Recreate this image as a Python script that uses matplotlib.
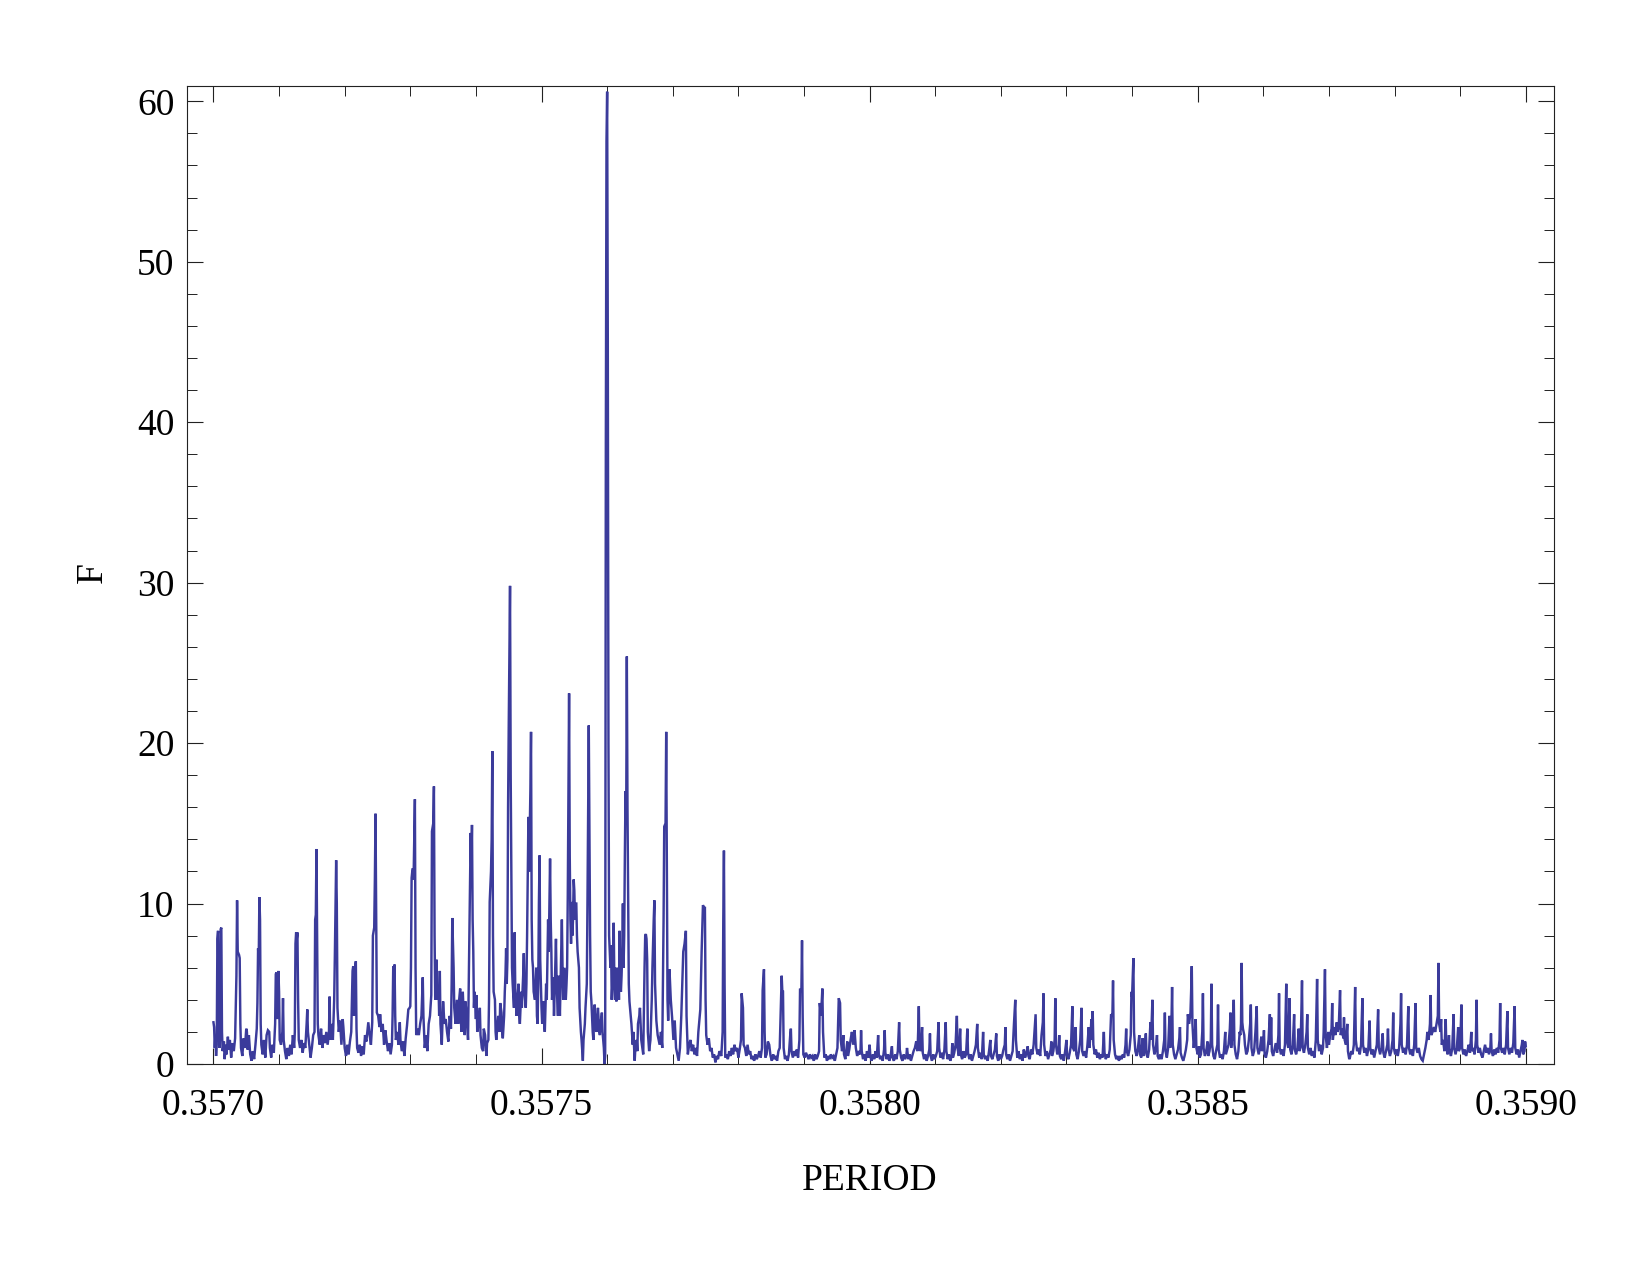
import numpy as np
import matplotlib
matplotlib.use("Agg")
import matplotlib.pyplot as plt
from matplotlib.ticker import MultipleLocator, FormatStrFormatter

# ---------------- data ----------------
period_1 = [
    0.357000, 0.357001, 0.357002, 0.357003, 0.357004, 0.357005, 0.357006, 0.357007, 0.357008, 0.357009,
    0.357010, 0.357011, 0.357012, 0.357013, 0.357014, 0.357016, 0.357017, 0.357019, 0.357020, 0.357022,
    0.357023, 0.357025, 0.357027, 0.357029, 0.357031, 0.357033, 0.357035, 0.357036, 0.357037, 0.357039,
    0.357040, 0.357041, 0.357042, 0.357044, 0.357046, 0.357048, 0.357050, 0.357051, 0.357052, 0.357054,
    0.357056, 0.357058, 0.357060, 0.357062, 0.357064, 0.357066, 0.357067, 0.357068, 0.357069, 0.357070,
    0.357071, 0.357072, 0.357073, 0.357075, 0.357077, 0.357079, 0.357081, 0.357083, 0.357085, 0.357086,
    0.357088, 0.357090, 0.357092, 0.357094, 0.357095, 0.357096, 0.357097, 0.357099, 0.357100, 0.357101,
    0.357103, 0.357105, 0.357106, 0.357107, 0.357109, 0.357111, 0.357113, 0.357115, 0.357117, 0.357119,
    0.357121, 0.357123, 0.357124, 0.357125, 0.357126, 0.357127, 0.357128, 0.357129, 0.357130, 0.357132,
    0.357134, 0.357136, 0.357138, 0.357140, 0.357142, 0.357143, 0.357144, 0.357146, 0.357148, 0.357150,
    0.357152, 0.357154, 0.357155, 0.357156, 0.357157, 0.357158, 0.357159, 0.357160, 0.357162, 0.357164,
    0.357166, 0.357168, 0.357170, 0.357172, 0.357174, 0.357176, 0.357177, 0.357178, 0.357180, 0.357182,
    0.357184, 0.357185, 0.357187, 0.357188, 0.357189, 0.357191, 0.357193, 0.357195, 0.357197, 0.357198,
    0.357200, 0.357202, 0.357204, 0.357206, 0.357208, 0.357210, 0.357212, 0.357213, 0.357214, 0.357216,
    0.357217, 0.357218, 0.357219, 0.357221, 0.357223, 0.357225, 0.357227, 0.357229, 0.357231, 0.357233,
    0.357235, 0.357236, 0.357238, 0.357240, 0.357242, 0.357243, 0.357245, 0.357246, 0.357247, 0.357248,
    0.357249, 0.357251, 0.357253, 0.357254, 0.357256, 0.357258, 0.357260, 0.357262, 0.357264, 0.357266,
    0.357268, 0.357270, 0.357272, 0.357273, 0.357274, 0.357275, 0.357276, 0.357277, 0.357278, 0.357280,
    0.357282, 0.357284, 0.357285, 0.357287, 0.357289, 0.357291, 0.357293, 0.357295, 0.357297, 0.357299,
    0.357300, 0.357301, 0.357302, 0.357303, 0.357304, 0.357305, 0.357306, 0.357307, 0.357308, 0.357309,
    0.357311, 0.357313, 0.357315, 0.357317, 0.357319, 0.357320]
F_1 = [
    2.6, 2.3, 1.0, 1.8, 0.5, 1.2, 7.8, 8.3, 2.5, 1.0,
    1.6, 8.4, 8.5, 2.0, 0.8, 1.4, 0.3, 1.2, 0.6, 1.7,
    0.9, 1.5, 0.4, 1.3, 0.8, 1.6, 5.5, 10.2, 7.0, 6.8,
    6.6, 2.5, 1.0, 0.5, 1.6, 1.0, 2.2, 2.0, 0.9, 1.8,
    0.6, 0.2, 0.8, 0.3, 1.2, 2.2, 3.8, 7.2, 6.5, 10.4,
    9.0, 2.5, 1.2, 0.6, 1.5, 0.4, 1.8, 2.1, 2.0, 1.0,
    0.4, 1.2, 0.7, 2.5, 5.6, 5.7, 2.8, 5.8, 4.5, 1.5,
    1.2, 2.0, 4.1, 1.5, 0.8, 0.3, 1.0, 0.5, 1.2, 0.6,
    1.8, 1.0, 2.0, 7.5, 8.2, 7.8, 8.2, 4.0, 1.5, 1.0,
    1.5, 0.7, 1.3, 1.0, 2.5, 3.4, 2.0, 1.2, 0.4, 1.0,
    1.8, 2.0, 9.0, 9.3, 13.4, 8.0, 2.5, 1.8, 1.2, 2.2,
    1.0, 1.8, 1.3, 2.0, 1.2, 1.9, 4.2, 1.5, 2.5, 1.5,
    4.0, 6.7, 12.7, 10.0, 3.5, 2.0, 2.7, 1.2, 2.8, 2.3,
    1.0, 0.5, 1.2, 0.6, 1.4, 2.0, 5.8, 6.1, 3.0, 6.0,
    6.4, 2.2, 1.0, 0.7, 1.2, 0.5, 1.1, 0.6, 1.8, 1.4,
    2.2, 2.6, 1.8, 1.2, 2.6, 8.0, 8.5, 11.5, 15.6, 9.0,
    3.2, 3.0, 2.3, 3.1, 2.0, 2.5, 1.2, 2.1, 1.4, 0.8,
    1.3, 0.6, 1.2, 3.0, 6.1, 4.0, 6.2, 3.0, 1.5, 2.0,
    1.2, 2.6, 1.5, 0.8, 1.4, 0.5, 1.6, 2.4, 3.4, 3.5,
    3.6, 6.0, 11.6, 12.0, 12.2, 11.5, 14.0, 16.5, 6.0, 1.8,
    2.2, 1.8, 2.5, 3.0, 5.4, 3.0]

period_2 = [
    0.357322, 0.357324, 0.357326, 0.357328, 0.357330, 0.357332, 0.357333, 0.357335, 0.357336, 0.357337,
    0.357338, 0.357340, 0.357341, 0.357343, 0.357344, 0.357345, 0.357346, 0.357348, 0.357350, 0.357352,
    0.357354, 0.357356, 0.357358, 0.357360, 0.357362, 0.357363, 0.357364, 0.357366, 0.357367, 0.357369,
    0.357371, 0.357373, 0.357374, 0.357376, 0.357377, 0.357378, 0.357380, 0.357381, 0.357383, 0.357384,
    0.357386, 0.357388, 0.357390, 0.357392, 0.357393, 0.357394, 0.357395, 0.357396, 0.357397, 0.357398,
    0.357400, 0.357401, 0.357402, 0.357404, 0.357406, 0.357407, 0.357409, 0.357411, 0.357412, 0.357414,
    0.357416, 0.357417, 0.357419, 0.357420, 0.357421, 0.357423, 0.357424, 0.357425, 0.357426, 0.357427,
    0.357429, 0.357430, 0.357431, 0.357433, 0.357434, 0.357436, 0.357437, 0.357439, 0.357440, 0.357441,
    0.357443, 0.357444, 0.357445, 0.357446, 0.357447, 0.357448, 0.357449, 0.357450, 0.357452, 0.357453,
    0.357454, 0.357455, 0.357456, 0.357458, 0.357459, 0.357460, 0.357462, 0.357463, 0.357465, 0.357466,
    0.357467, 0.357469, 0.357470, 0.357472, 0.357473, 0.357474, 0.357476, 0.357477, 0.357478, 0.357480,
    0.357481, 0.357483, 0.357484, 0.357485, 0.357486, 0.357487, 0.357488, 0.357490, 0.357491, 0.357492,
    0.357493, 0.357494, 0.357495, 0.357496, 0.357497, 0.357498, 0.357500, 0.357501, 0.357503, 0.357504,
    0.357505, 0.357507, 0.357508, 0.357510, 0.357511, 0.357513, 0.357514, 0.357515, 0.357516, 0.357518,
    0.357519, 0.357520, 0.357522, 0.357523, 0.357524, 0.357525, 0.357526, 0.357527, 0.357528, 0.357529,
    0.357531, 0.357532, 0.357533, 0.357535, 0.357536, 0.357537, 0.357538, 0.357539, 0.357540, 0.357542,
    0.357543, 0.357544, 0.357545, 0.357546, 0.357547, 0.357548, 0.357549, 0.357550, 0.357551, 0.357552,
    0.357553, 0.357554, 0.357555, 0.357557, 0.357558, 0.357560, 0.357561, 0.357563, 0.357564, 0.357566,
    0.357567, 0.357569, 0.357570, 0.357572, 0.357573, 0.357574, 0.357575, 0.357576, 0.357578, 0.357579,
    0.357580, 0.357581, 0.357582, 0.357584, 0.357585, 0.357586, 0.357588, 0.357589, 0.357590, 0.357592,
    0.357593, 0.357594, 0.357595, 0.357596, 0.357597, 0.357598, 0.357599, 0.357600, 0.357601, 0.357602,
    0.357603, 0.357604, 0.357605, 0.357606, 0.357607, 0.357608, 0.357609, 0.357610, 0.357611, 0.357612,
    0.357613, 0.357614, 0.357616, 0.357617, 0.357618, 0.357619, 0.357620, 0.357621, 0.357622, 0.357623,
    0.357624, 0.357625, 0.357626, 0.357627, 0.357628, 0.357629, 0.357630, 0.357631, 0.357632, 0.357633,
    0.357634, 0.357636, 0.357637, 0.357639, 0.357640, 0.357642, 0.357643, 0.357645, 0.357646, 0.357647,
    0.357649, 0.357650]
F_2 = [
    1.0, 1.8, 0.8, 2.5, 3.0, 4.3, 14.5, 15.0, 17.3, 8.0,
    4.0, 6.5, 4.0, 4.8, 3.0, 5.8, 2.5, 1.2, 3.9, 2.5,
    2.8, 2.0, 1.4, 3.0, 2.2, 5.0, 9.1, 6.0, 3.5, 2.5,
    4.0, 2.5, 3.8, 4.7, 2.8, 2.0, 4.5, 3.5, 1.8, 3.9,
    3.0, 1.5, 8.0, 14.4, 12.0, 14.9, 9.0, 7.0, 3.5, 4.5,
    2.8, 4.3, 2.0, 2.5, 3.5, 1.8, 1.0, 0.8, 2.2, 1.8,
    0.5, 1.3, 1.5, 4.0, 10.1, 12.0, 14.0, 19.5, 8.0, 4.5,
    4.0, 2.0, 1.5, 2.5, 3.0, 2.0, 3.8, 3.2, 2.0, 1.6,
    3.0, 4.5, 5.5, 7.2, 5.0, 6.5, 16.0, 21.0, 29.8, 18.0,
    12.0, 6.0, 5.0, 3.5, 8.2, 4.5, 3.0, 4.0, 5.0, 3.0,
    2.5, 4.5, 3.5, 5.5, 6.9, 4.5, 3.5, 5.0, 8.0, 15.4,
    12.0, 17.0, 20.7, 9.0, 6.5, 6.0, 4.5, 4.0, 5.0, 6.0,
    3.0, 2.5, 5.0, 10.0, 13.0, 6.5, 3.5, 2.5, 3.9, 2.5,
    2.0, 5.0, 4.0, 9.0, 7.0, 12.8, 9.0, 7.0, 4.0, 5.4,
    3.0, 4.5, 7.8, 5.0, 4.0, 3.0, 5.5, 4.5, 3.0, 5.0,
    9.0, 6.0, 4.0, 6.0, 5.0, 4.0, 4.9, 6.0, 10.5, 23.1,
    13.0, 9.0, 7.5, 10.1, 8.0, 9.0, 11.5, 10.8, 9.0, 10.0,
    10.0, 8.0, 7.0, 6.0, 3.5, 2.0, 1.5, 0.2, 1.5, 2.5,
    3.5, 5.0, 10.0, 21.1, 14.0, 8.0, 4.5, 3.9, 2.0, 1.5,
    2.5, 3.7, 2.5, 2.0, 3.0, 3.5, 2.0, 1.8, 2.5, 3.2,
    2.0, 1.5, 1.0, 0.0, 0.5, 38.6, 57.5, 60.6, 45.0, 20.0,
    8.0, 7.0, 6.0, 7.4, 4.0, 5.0, 6.5, 8.8, 5.0, 4.0,
    6.0, 3.9, 5.0, 6.0, 4.0, 8.3, 5.0, 4.5, 5.5, 7.0,
    10.0, 6.0, 8.0, 13.0, 17.0, 15.0, 25.4, 16.0, 10.0, 5.0,
    3.9, 3.0, 2.5, 1.2, 2.0, 0.2, 1.0, 1.5, 0.8, 2.5,
    3.0, 3.5]

period_3 = [
    0.357652, 0.357655, 0.357657, 0.357658, 0.357659, 0.357660, 0.357661, 0.357662, 0.357664, 0.357666,
    0.357668, 0.357669, 0.357671, 0.357672, 0.357673, 0.357675, 0.357677, 0.357680, 0.357682, 0.357684,
    0.357686, 0.357687, 0.357689, 0.357690, 0.357691, 0.357692, 0.357693, 0.357695, 0.357697, 0.357699,
    0.357701, 0.357703, 0.357705, 0.357707, 0.357709, 0.357711, 0.357713, 0.357716, 0.357718, 0.357720,
    0.357721, 0.357723, 0.357725, 0.357727, 0.357729, 0.357731, 0.357733, 0.357735, 0.357737, 0.357739,
    0.357742, 0.357744, 0.357746, 0.357748, 0.357749, 0.357750, 0.357751, 0.357753, 0.357755, 0.357757,
    0.357759, 0.357761, 0.357763, 0.357765, 0.357767, 0.357769, 0.357771, 0.357774, 0.357776, 0.357777,
    0.357778, 0.357779, 0.357780, 0.357782, 0.357784, 0.357786, 0.357788, 0.357790, 0.357792, 0.357794,
    0.357796, 0.357798, 0.357800, 0.357802, 0.357804, 0.357805, 0.357807, 0.357808, 0.357810, 0.357812,
    0.357814, 0.357816, 0.357818, 0.357820, 0.357822, 0.357824, 0.357826, 0.357828, 0.357830, 0.357832,
    0.357834, 0.357836, 0.357837, 0.357839, 0.357840, 0.357841, 0.357843, 0.357845, 0.357847, 0.357849,
    0.357851, 0.357853, 0.357855, 0.357857, 0.357859, 0.357861, 0.357863, 0.357865, 0.357866, 0.357867,
    0.357868, 0.357869, 0.357871, 0.357873, 0.357875, 0.357877, 0.357879, 0.357880, 0.357881, 0.357883,
    0.357885, 0.357887, 0.357889, 0.357891, 0.357893, 0.357894, 0.357896, 0.357897, 0.357898, 0.357899,
    0.357901, 0.357903, 0.357905, 0.357907, 0.357909, 0.357911, 0.357913, 0.357915, 0.357917, 0.357919,
    0.357921, 0.357923, 0.357924, 0.357926, 0.357928, 0.357929, 0.357931, 0.357933, 0.357935, 0.357937,
    0.357939, 0.357941, 0.357943, 0.357945, 0.357947, 0.357949, 0.357951, 0.357953, 0.357955, 0.357956,
    0.357958, 0.357960, 0.357961, 0.357963, 0.357965, 0.357966, 0.357967, 0.357969, 0.357971, 0.357973,
    0.357975, 0.357977, 0.357979, 0.357981, 0.357983]
F_3 = [
    1.5, 0.6, 6.0, 8.0, 8.1, 7.8, 6.5, 2.0, 0.8, 1.5,
    4.0, 6.0, 9.0, 10.2, 5.0, 2.7, 1.8, 1.2, 2.0, 1.0,
    9.0, 14.8, 15.0, 20.7, 12.0, 4.0, 2.7, 5.9, 4.0, 2.9,
    1.5, 2.7, 1.0, 0.6, 0.2, 1.0, 3.0, 7.0, 7.5, 8.3,
    3.0, 0.6, 1.2, 1.5, 0.8, 1.2, 0.6, 1.0, 0.5, 2.0,
    3.4, 7.0, 9.9, 9.7, 9.8, 4.0, 1.8, 1.2, 1.6, 0.8,
    1.0, 0.4, 0.6, 0.1, 0.5, 0.3, 0.8, 0.5, 2.0, 9.0,
    13.3, 5.0, 0.4, 0.6, 0.3, 0.8, 0.5, 1.0, 0.6, 1.2,
    0.8, 1.0, 0.4, 0.9, 1.5, 4.4, 3.5, 1.2, 1.0, 0.5,
    1.2, 0.6, 0.8, 0.3, 0.5, 0.2, 0.6, 0.3, 0.5, 0.8,
    0.4, 1.0, 4.6, 5.9, 2.0, 0.4, 0.6, 1.4, 1.2, 0.5,
    0.2, 0.6, 0.3, 0.5, 0.2, 0.8, 1.0, 4.0, 5.5, 4.5,
    4.5, 1.0, 0.3, 0.5, 0.2, 0.6, 1.8, 2.2, 0.8, 0.4,
    0.8, 0.5, 0.9, 0.4, 1.5, 4.7, 4.5, 7.7, 3.0, 0.6,
    0.4, 0.7, 0.5, 0.3, 0.6, 0.4, 0.5, 0.2, 0.6, 0.3,
    0.5, 0.8, 3.8, 3.0, 4.7, 2.0, 0.4, 0.6, 0.2, 0.5,
    0.3, 0.6, 0.4, 0.5, 0.2, 0.6, 1.0, 4.1, 3.8, 1.5,
    0.8, 1.8, 0.6, 0.3, 1.0, 1.4, 0.5, 0.9, 1.5, 2.0,
    1.2, 2.1, 1.0, 0.5, 0.8]

period_4 = [
    0.357986, 0.357987, 0.357988, 0.357990, 0.357992, 0.357994, 0.357996, 0.357998, 0.358000, 0.358001,
    0.358003, 0.358005, 0.358007, 0.358009, 0.358011, 0.358013, 0.358014, 0.358016, 0.358018, 0.358020,
    0.358022, 0.358023, 0.358024, 0.358026, 0.358028, 0.358030, 0.358032, 0.358034, 0.358035, 0.358037,
    0.358039, 0.358041, 0.358043, 0.358045, 0.358046, 0.358048, 0.358050, 0.358052, 0.358054, 0.358056,
    0.358057, 0.358059, 0.358061, 0.358063, 0.358065, 0.358067, 0.358069, 0.358071, 0.358073, 0.358074,
    0.358075, 0.358076, 0.358078, 0.358080, 0.358081, 0.358083, 0.358085, 0.358087, 0.358089, 0.358091,
    0.358092, 0.358093, 0.358095, 0.358097, 0.358099, 0.358101, 0.358103, 0.358105, 0.358106, 0.358108,
    0.358110, 0.358112, 0.358114, 0.358116, 0.358117, 0.358119, 0.358121, 0.358123, 0.358125, 0.358126,
    0.358127, 0.358129, 0.358131, 0.358133, 0.358134, 0.358136, 0.358138, 0.358139, 0.358141, 0.358143,
    0.358145, 0.358147, 0.358149, 0.358150, 0.358152, 0.358154, 0.358156, 0.358158, 0.358160, 0.358162,
    0.358164, 0.358165, 0.358167, 0.358169, 0.358171, 0.358173, 0.358174, 0.358176, 0.358178, 0.358180,
    0.358182, 0.358184, 0.358185, 0.358187, 0.358189, 0.358191, 0.358193, 0.358194, 0.358196, 0.358198,
    0.358200, 0.358202, 0.358204, 0.358206, 0.358207, 0.358208, 0.358210, 0.358212, 0.358214, 0.358216,
    0.358218, 0.358220, 0.358222, 0.358223, 0.358225, 0.358227, 0.358229, 0.358231, 0.358233, 0.358235,
    0.358237, 0.358239, 0.358241, 0.358242, 0.358244, 0.358246, 0.358248, 0.358250, 0.358252, 0.358253,
    0.358254, 0.358256, 0.358258, 0.358260, 0.358262, 0.358264, 0.358265, 0.358266, 0.358268, 0.358270,
    0.358272, 0.358274, 0.358276, 0.358277, 0.358278, 0.358280, 0.358282, 0.358283, 0.358284, 0.358286,
    0.358288, 0.358289, 0.358290, 0.358292, 0.358294, 0.358296, 0.358298, 0.358300, 0.358301, 0.358303,
    0.358305, 0.358307, 0.358309, 0.358310, 0.358312, 0.358314, 0.358315, 0.358317, 0.358319, 0.358321,
    0.358323, 0.358324]
F_4 = [
    0.6, 2.1, 0.8, 0.3, 0.6, 0.2, 0.8, 0.4, 1.2, 0.5,
    0.2, 0.6, 0.3, 0.8, 0.4, 1.8, 0.6, 0.3, 0.5, 0.2,
    0.9, 2.1, 0.7, 0.3, 0.6, 0.2, 0.5, 1.1, 0.4, 0.2,
    0.6, 0.3, 0.8, 2.6, 0.9, 0.4, 0.2, 0.6, 0.3, 0.5,
    1.0, 0.3, 0.6, 0.2, 0.5, 0.8, 1.0, 1.4, 0.8, 2.0,
    3.6, 1.2, 0.8, 2.3, 0.7, 0.3, 0.6, 0.2, 0.5, 0.9,
    1.9, 0.5, 0.2, 0.6, 0.3, 0.5, 0.8, 2.6, 1.0, 0.4,
    0.7, 0.3, 0.9, 2.6, 0.8, 0.3, 0.6, 0.2, 0.5, 1.3,
    0.4, 0.7, 1.2, 3.0, 1.0, 0.5, 2.2, 0.6, 0.3, 0.8,
    0.4, 0.6, 2.2, 0.7, 0.3, 0.6, 0.2, 0.5, 0.8, 1.2,
    2.5, 1.0, 0.4, 0.7, 0.3, 2.0, 0.6, 0.3, 0.5, 0.2,
    0.8, 1.5, 0.5, 0.3, 0.6, 0.9, 1.9, 0.5, 0.2, 0.6,
    0.3, 0.5, 0.9, 1.2, 2.3, 0.6, 0.3, 0.6, 0.2, 0.5,
    0.8, 2.5, 4.0, 1.5, 0.4, 0.8, 0.3, 0.6, 0.2, 0.9,
    0.4, 0.7, 1.1, 0.5, 0.3, 0.9, 0.6, 1.2, 2.5, 3.1,
    1.0, 0.6, 0.9, 0.5, 1.8, 2.6, 4.4, 1.2, 0.5, 0.8,
    0.3, 0.6, 0.9, 1.4, 0.5, 0.8, 1.5, 4.1, 1.2, 0.6,
    0.9, 1.8, 0.5, 0.3, 0.6, 0.2, 0.8, 1.5, 0.5, 0.3,
    0.7, 1.2, 3.6, 1.0, 0.8, 2.3, 0.6, 0.3, 0.8, 1.5,
    3.5, 0.8]

period_5 = [
    0.358326, 0.358328, 0.358330, 0.358332, 0.358334, 0.358335, 0.358337, 0.358338, 0.358339, 0.358340,
    0.358341, 0.358343, 0.358345, 0.358347, 0.358349, 0.358351, 0.358353, 0.358355, 0.358357, 0.358358,
    0.358360, 0.358362, 0.358364, 0.358366, 0.358368, 0.358370, 0.358371, 0.358372, 0.358374, 0.358376,
    0.358378, 0.358380, 0.358382, 0.358384, 0.358386, 0.358388, 0.358390, 0.358391, 0.358392, 0.358394,
    0.358396, 0.358398, 0.358399, 0.358400, 0.358402, 0.358403, 0.358405, 0.358407, 0.358409, 0.358411,
    0.358412, 0.358414, 0.358416, 0.358417, 0.358419, 0.358421, 0.358422, 0.358424, 0.358426, 0.358428,
    0.358429, 0.358431, 0.358432, 0.358434, 0.358436, 0.358438, 0.358439, 0.358441, 0.358443, 0.358445,
    0.358447, 0.358449, 0.358450, 0.358451, 0.358453, 0.358455, 0.358457, 0.358458, 0.358460, 0.358461,
    0.358462, 0.358464, 0.358466, 0.358468, 0.358470, 0.358472, 0.358473, 0.358474, 0.358476, 0.358478,
    0.358480, 0.358482, 0.358484, 0.358485, 0.358487, 0.358489, 0.358490, 0.358491, 0.358492, 0.358494,
    0.358496, 0.358497, 0.358498, 0.358500, 0.358502, 0.358503, 0.358505, 0.358507, 0.358508, 0.358509,
    0.358511, 0.358513, 0.358515, 0.358516, 0.358518, 0.358520, 0.358521, 0.358522, 0.358524, 0.358526,
    0.358528, 0.358530, 0.358531, 0.358532, 0.358534, 0.358536, 0.358538, 0.358540, 0.358542, 0.358543,
    0.358545, 0.358547, 0.358549, 0.358550, 0.358551, 0.358553, 0.358555, 0.358556, 0.358558, 0.358560,
    0.358562, 0.358563, 0.358564, 0.358565, 0.358566, 0.358567, 0.358568, 0.358569, 0.358570, 0.358571,
    0.358572, 0.358574, 0.358576, 0.358578, 0.358580, 0.358581, 0.358582, 0.358584, 0.358586, 0.358588,
    0.358590, 0.358591, 0.358593, 0.358595, 0.358597, 0.358598, 0.358600, 0.358601, 0.358602, 0.358604,
    0.358606, 0.358608, 0.358610, 0.358611, 0.358612, 0.358613, 0.358615, 0.358617, 0.358619, 0.358621,
    0.358623, 0.358624, 0.358625, 0.358627, 0.358629, 0.358631, 0.358633, 0.358635, 0.358636, 0.358638,
    0.358640, 0.358641, 0.358643, 0.358645, 0.358647, 0.358648, 0.358650, 0.358652, 0.358654, 0.358655,
    0.358657, 0.358659, 0.358660]
F_5 = [
    0.5, 0.8, 0.4, 1.2, 2.3, 1.0, 2.0, 2.8, 1.5, 3.3,
    1.2, 0.6, 0.9, 0.4, 0.7, 0.3, 0.6, 0.4, 2.0, 0.7,
    0.3, 0.6, 0.4, 0.9, 3.1, 3.0, 5.2, 1.5, 0.6, 0.3,
    0.5, 0.2, 0.5, 0.3, 0.6, 0.4, 1.2, 2.2, 0.8, 0.5,
    0.9, 1.8, 4.5, 4.2, 6.6, 2.0, 0.8, 0.5, 1.0, 1.8,
    0.6, 0.4, 1.6, 0.5, 0.8, 1.9, 0.6, 0.4, 0.9, 2.6,
    1.5, 4.0, 1.2, 0.6, 0.9, 1.8, 0.5, 0.3, 0.6, 0.3,
    0.8, 1.5, 3.2, 0.8, 0.4, 1.0, 3.0, 1.0, 2.5, 4.8,
    1.2, 0.6, 0.3, 0.6, 0.9, 1.6, 2.3, 0.7, 0.4, 0.2,
    0.5, 0.9, 1.5, 3.1, 2.5, 3.2, 4.5, 6.1, 2.5, 1.0,
    2.0, 2.8, 1.0, 0.6, 1.1, 0.4, 0.6, 2.0, 4.4, 1.0,
    0.5, 0.8, 1.4, 0.5, 0.8, 1.5, 5.0, 1.2, 0.5, 0.3,
    0.8, 1.2, 3.7, 0.9, 0.4, 0.6, 0.3, 0.8, 2.0, 0.6,
    0.9, 1.2, 2.2, 3.2, 1.0, 1.8, 4.0, 1.2, 0.6, 0.3,
    0.8, 1.4, 2.0, 1.8, 2.5, 6.3, 2.6, 2.2, 2.0, 1.8,
    1.2, 0.6, 0.8, 1.5, 2.5, 3.7, 1.0, 0.5, 0.8, 2.0,
    3.6, 1.0, 0.6, 1.0, 1.7, 0.8, 1.2, 2.1, 0.6, 0.4,
    0.8, 1.5, 3.1, 1.2, 2.9, 0.8, 0.5, 0.9, 1.3, 0.7,
    1.8, 4.4, 1.0, 0.6, 0.9, 0.5, 1.2, 5.0, 1.5, 1.0,
    4.1, 0.9, 0.6, 1.2, 3.1, 0.9, 0.6, 1.0, 2.2, 0.8,
    1.2, 5.2, 1.0]

period_6 = [
    0.358662, 0.358664, 0.358666, 0.358667, 0.358668, 0.358670, 0.358672, 0.358674, 0.358676, 0.358678,
    0.358680, 0.358682, 0.358683, 0.358685, 0.358687, 0.358689, 0.358691, 0.358692, 0.358694, 0.358695,
    0.358697, 0.358699, 0.358700, 0.358702, 0.358704, 0.358705, 0.358706, 0.358708, 0.358710, 0.358712,
    0.358713, 0.358715, 0.358717, 0.358718, 0.358720, 0.358722, 0.358723, 0.358724, 0.358726, 0.358728,
    0.358729, 0.358731, 0.358732, 0.358734, 0.358736, 0.358738, 0.358740, 0.358741, 0.358743, 0.358745,
    0.358747, 0.358749, 0.358751, 0.358752, 0.358754, 0.358756, 0.358758, 0.358760, 0.358762, 0.358763,
    0.358765, 0.358767, 0.358769, 0.358771, 0.358773, 0.358775, 0.358776, 0.358778, 0.358780, 0.358782,
    0.358783, 0.358785, 0.358787, 0.358789, 0.358790, 0.358791, 0.358793, 0.358795, 0.358797, 0.358798,
    0.358799, 0.358801, 0.358803, 0.358805, 0.358807, 0.358809, 0.358810, 0.358811, 0.358813, 0.358815,
    0.358817, 0.358819, 0.358821, 0.358822, 0.358824, 0.358826, 0.358828, 0.358830, 0.358832, 0.358833,
    0.358835, 0.358837, 0.358839, 0.358841, 0.358843, 0.358845, 0.358847, 0.358849, 0.358850, 0.358852,
    0.358854, 0.358855, 0.358856, 0.358858, 0.358860, 0.358862, 0.358864, 0.358866, 0.358867, 0.358868,
    0.358870, 0.358871, 0.358872, 0.358874, 0.358876, 0.358878, 0.358879, 0.358881, 0.358883, 0.358884,
    0.358886, 0.358888, 0.358890, 0.358891, 0.358893, 0.358895, 0.358897, 0.358898, 0.358900, 0.358902,
    0.358903, 0.358905, 0.358907, 0.358909, 0.358911, 0.358913, 0.358915, 0.358917, 0.358918, 0.358920,
    0.358922, 0.358924, 0.358925, 0.358926, 0.358928, 0.358930, 0.358932, 0.358934, 0.358936, 0.358938,
    0.358940, 0.358942, 0.358944, 0.358946, 0.358947, 0.358948, 0.358950, 0.358952, 0.358954, 0.358956,
    0.358958, 0.358960, 0.358961, 0.358962, 0.358964, 0.358966, 0.358968, 0.358970, 0.358972, 0.358973,
    0.358975, 0.358977, 0.358979, 0.358981, 0.358983, 0.358984, 0.358986, 0.358988, 0.358990, 0.358992,
    0.358994, 0.358995, 0.358996, 0.358998, 0.358999, 0.359000]
F_6 = [
    0.7, 1.2, 2.0, 3.1, 1.0, 0.6, 1.0, 0.5, 0.8, 0.4,
    1.5, 5.3, 1.5, 0.8, 1.2, 0.6, 1.0, 2.0, 5.9, 1.8,
    1.0, 2.0, 1.2, 1.8, 2.2, 3.8, 1.5, 2.3, 1.8, 2.6,
    2.0, 2.3, 4.6, 1.8, 2.2, 1.6, 2.9, 1.5, 1.2, 2.5,
    0.8, 0.3, 0.4, 0.8, 0.6, 1.2, 4.8, 1.5, 0.8, 1.0,
    0.6, 1.2, 4.1, 1.2, 0.7, 1.0, 0.5, 0.9, 2.7, 1.0,
    0.6, 0.9, 0.4, 0.8, 1.2, 3.4, 1.0, 0.6, 1.0, 1.9,
    0.7, 0.4, 0.8, 1.2, 2.2, 0.9, 0.5, 0.8, 1.5, 3.2,
    1.0, 0.6, 0.9, 0.5, 1.0, 2.5, 4.4, 1.2, 0.7, 1.0,
    0.6, 1.2, 3.6, 1.0, 0.6, 0.9, 0.5, 1.2, 3.8, 1.0,
    0.7, 1.0, 0.5, 0.3, 0.2, 0.6, 1.0, 1.5, 2.0, 1.5,
    2.5, 4.3, 1.8, 2.0, 2.3, 2.0, 2.5, 3.0, 6.3, 2.5,
    2.0, 2.8, 1.2, 1.5, 0.8, 2.8, 1.0, 0.6, 1.8, 0.8,
    0.5, 1.0, 3.1, 1.0, 0.6, 1.0, 2.3, 0.8, 1.0, 3.7,
    1.0, 0.6, 0.9, 0.5, 0.8, 1.2, 0.7, 2.0, 0.8, 1.0,
    0.6, 1.5, 4.0, 1.2, 0.7, 1.0, 0.6, 0.4, 0.8, 1.2,
    0.7, 1.0, 0.6, 1.0, 1.9, 0.8, 0.5, 0.9, 0.6, 1.0,
    0.7, 1.5, 3.8, 1.0, 0.7, 1.0, 0.6, 1.2, 3.3, 1.0,
    0.6, 1.0, 0.7, 1.3, 3.6, 1.0, 0.6, 0.9, 0.4, 0.8,
    1.2, 1.5, 0.6, 0.8, 1.4, 1.1]

x_major_ticks = [0.3570, 0.3575, 0.3580, 0.3585, 0.3590]
y_major_ticks = [0, 10, 20, 30, 40, 50, 60]
x_label = "PERIOD"
y_label = "F"

# ---------------- assemble ----------------
segments = [(period_1, F_1), (period_2, F_2), (period_3, F_3),
            (period_4, F_4), (period_5, F_5), (period_6, F_6)]
for i, (p, f) in enumerate(segments):
    if len(p) != len(f):
        raise ValueError(f"segment {i+1}: {len(p)} periods vs {len(f)} values")
period = np.concatenate([np.asarray(p) for p, _ in segments])
F = np.concatenate([np.asarray(f) for _, f in segments])

# ---------------- plot ----------------
plt.rcParams['font.family'] = ['Liberation Serif', 'DejaVu Serif']
fig = plt.figure(figsize=(16.5, 12.75), dpi=100)
ax = fig.add_axes([0.1133, 0.1655, 0.8285, 0.767])

ax.plot(period, F, color='#3b3b9b', lw=1.75, solid_joinstyle='miter')

ax.set_xlim(0.3569596, 0.359043)
ax.set_ylim(0, 60.95)

ax.set_xticks(x_major_ticks)
ax.set_yticks(y_major_ticks)
ax.xaxis.set_minor_locator(MultipleLocator(0.0001))
ax.yaxis.set_minor_locator(MultipleLocator(2))
ax.xaxis.set_major_formatter(FormatStrFormatter('%.4f'))

ax.tick_params(which='both', direction='in', top=True, right=True,
               labelsize=27, colors='#222222', labelcolor='black')
ax.tick_params(which='major', length=11.5, width=0.8)
ax.tick_params(which='minor', length=7.2, width=0.7)
ax.tick_params(axis='x', pad=17.5)
ax.tick_params(axis='y', pad=9)
for s in ax.spines.values():
    s.set_linewidth(0.8)
    s.set_color('#222222')

fig.text(0.527, 0.0743, x_label, ha='center', va='center', fontsize=27)
fig.text(0.0561, 0.5506, y_label, ha='center', va='center', fontsize=27, rotation=90)

fig.savefig('out.png', dpi=100)
